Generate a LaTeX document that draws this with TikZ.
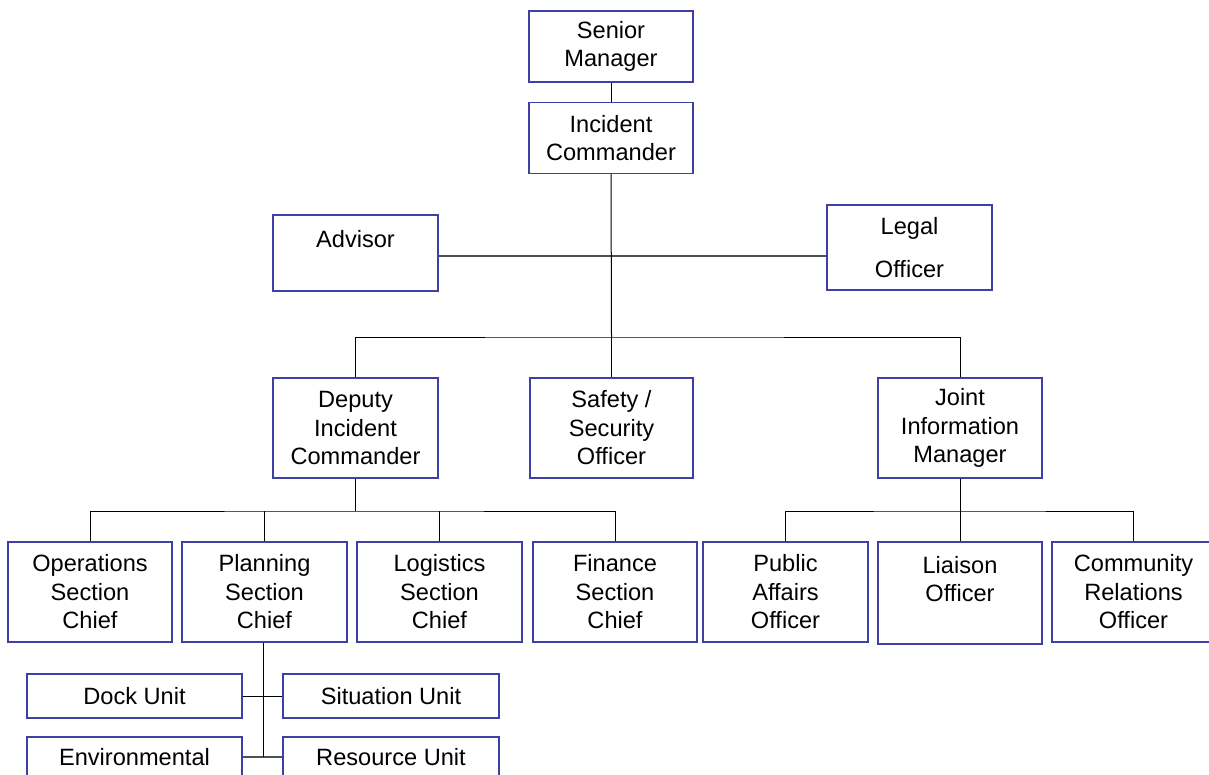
\documentclass[tikz,border=0pt]{standalone}
\usepackage{fontspec}
\setmainfont{Liberation Sans}
\definecolor{boxblue}{RGB}{64,64,164}
\definecolor{linegray}{RGB}{80,80,80}
\begin{document}
\begin{tikzpicture}[x=1pt,y=-1pt,
  box/.style={draw=boxblue,line width=1.3pt,fill=white,inner sep=0pt,align=center,
    font=\fontsize{23.6}{28.5}\selectfont},
  conn/.style={draw=black,line width=1pt},
  side/.style={draw=linegray,line width=1.8pt}]
\useasboundingbox (0,0) rectangle (1209,775);
% top
\node[box,minimum width=164,minimum height=71] (sm) at (611,46.5) {Senior\\Manager};
\node[box,minimum width=164,minimum height=71] (ic) at (611,138) {Incident\\Commander};
\node[box,minimum width=165,minimum height=76] (adv) at (355.5,253) {Advisor\\~};
\node[box,minimum width=165,minimum height=85] (legal) at (909.5,247.5) {Legal\\[14.5pt]Officer};
% second level
\node[box,minimum width=165,minimum height=100] (dep) at (355.5,428) {Deputy\\Incident\\Commander};
\node[box,minimum width=163,minimum height=100] (saf) at (611.5,428) {Safety /\\Security\\Officer};
\node[box,minimum width=164,minimum height=100] (jim) at (960,428) {Joint\\Information\\Manager};
% third level
\node[box,minimum width=164,minimum height=100] (ops) at (90,592) {Operations\\Section\\Chief};
\node[box,minimum width=165,minimum height=100] (plan) at (264.5,592) {Planning\\Section\\Chief};
\node[box,minimum width=165,minimum height=100] (log) at (439.5,592) {Logistics\\Section\\Chief};
\node[box,minimum width=164,minimum height=100] (fin) at (615,592) {Finance\\Section\\Chief};
\node[box,minimum width=165,minimum height=100] (pub) at (785.5,592) {Public\\Affairs\\Officer};
\node[box,minimum width=164,minimum height=102] (lia) at (960,593) {Liaison\\Officer\\~};
\node[box,minimum width=163,minimum height=100] (com) at (1133.5,592) {Community\\Relations\\Officer};
% units
\node[box,minimum width=215,minimum height=44] (dock) at (134.5,696) {Dock Unit};
\node[box,minimum width=216,minimum height=44] (sit) at (391,696) {Situation Unit};
\node[box,minimum width=215,minimum height=68.5] (env) at (134.5,771.25) {Environmental\\~};
\node[box,minimum width=216,minimum height=68.5] (res) at (391,771.25) {Resource Unit\\~};
% connectors
\draw[side] (adv.east |- 0,256) -- (legal.west |- 0,256);
\draw[conn] (sm.south) -- (ic.north);
\coordinate (bus1) at (611.5,337);
\draw[conn] (ic.south) -- (bus1);
\draw[conn] (dep.north) |- (bus1) -| (jim.north);
\draw[conn] (bus1) -- (saf.north);
\coordinate (bus2) at (355.5,511);
\draw[conn] (dep.south) -- (bus2);
\draw[conn] (ops.north) |- (bus2) -| (fin.north);
\draw[conn] (plan.north) -- (plan.north |- bus2);
\draw[conn] (log.north) -- (log.north |- bus2);
\coordinate (bus3) at (960,511);
\draw[conn] (jim.south) -- (bus3);
\draw[conn] (pub.north) |- (bus3) -| (com.north);
\draw[conn] (bus3) -- (lia.north);
\coordinate (bus4) at (263.5,757);
\draw[side] (env.east |- bus4) -- (res.west |- bus4);
\draw[conn] (plan.south -| bus4) -- (bus4);
\draw[conn] (dock.east) -- (sit.west);
\end{tikzpicture}
\end{document}
